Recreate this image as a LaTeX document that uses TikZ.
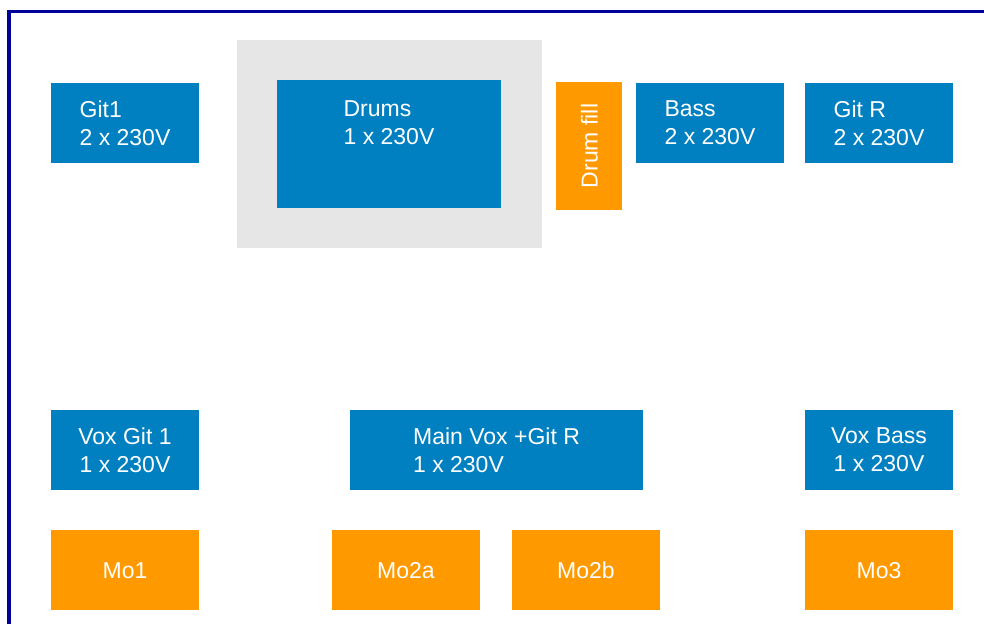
\documentclass[tikz,border=0pt]{standalone}
\usepackage{fontspec}
\setmainfont{Liberation Sans}
\definecolor{ampblue}{HTML}{0080C0}
\definecolor{monorange}{HTML}{FF9900}
\definecolor{riser}{HTML}{E6E6E6}
\definecolor{frame}{HTML}{000099}
\tikzset{
  box/.style={inner sep=0pt,text=white,font=\fontsize{23}{28}\selectfont,align=left},
  amp/.style={box,fill=ampblue,minimum width=148pt,minimum height=80pt},
  monitor/.style={box,fill=monorange,minimum width=148pt,minimum height=80pt,text height=17pt,text depth=0pt}
}
\begin{document}
\begin{tikzpicture}[x=1pt,y=-1pt]
\useasboundingbox (0,0) rectangle (984,624);
\draw[frame,line width=3.5pt] (9,624) -- (9,11.7) -- (984,11.7);
% top row
\node[fill=riser,minimum width=305pt,minimum height=208pt] (riser) at (389.5,144) {};
\node[amp,minimum width=224pt,minimum height=128pt] (drums) at (389,144) {};
\node[box,anchor=north] (drumstext) at ([yshift=-21pt]drums.north) {Drums\\1 x 230V};
\node[amp] (git1) at (125,123) {Git1\\2 x 230V};
\node[monitor,minimum width=128pt,minimum height=66pt,rotate=90] (drumfill) at (589,146) {Drum fill};
\node[amp] (bass) at (710,123) {Bass\\2 x 230V};
\node[amp] (gitr) at (879,123) {Git R\\2 x 230V};
% bottom rows
\node[amp,align=center] (voxgit) at (125,450) {Vox Git 1\\1 x 230V};
\node[amp,minimum width=293pt] (mainvox) at (496.5,450) {Main Vox +Git R\\1 x 230V};
\node[amp,align=center] (voxbass) at (879,450) {Vox Bass\\1 x 230V};
\foreach \n/\x/\t in {mo1/125/Mo1,mo2a/406/Mo2a,mo2b/586/Mo2b,mo3/879/Mo3}
  \node[monitor] (\n) at (\x,570) {\t};
\end{tikzpicture}
\end{document}
